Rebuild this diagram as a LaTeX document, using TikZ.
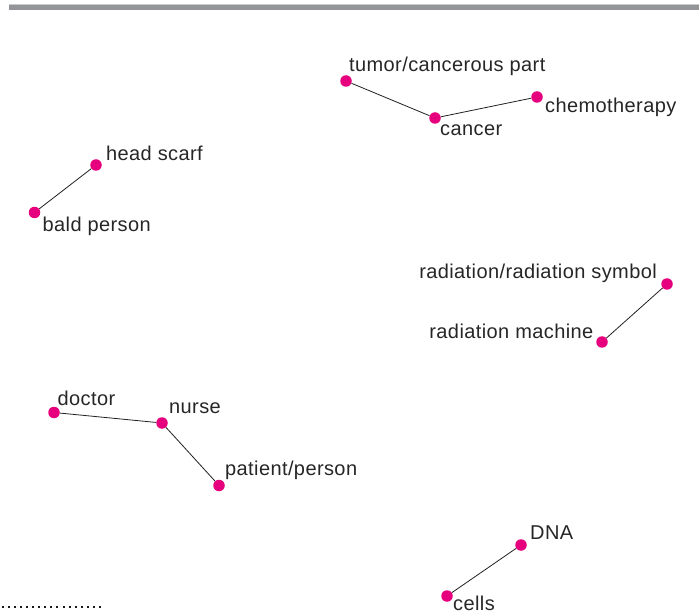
\documentclass[tikz,border=0pt]{standalone}
\usepackage{fontspec}
\setmainfont{Liberation Sans}
\newfontfamily\lblfont[LetterSpace=2]{Liberation Sans}
\definecolor{dotmag}{HTML}{E6007E}
\definecolor{bargray}{HTML}{939598}
\definecolor{linegray}{HTML}{231F20}
\begin{document}
\begin{tikzpicture}[x=1pt,y=-1pt,
  pt/.style={circle,fill=dotmag,inner sep=0pt,minimum size=11.5pt},
  lbl/.style={inner sep=0pt,font=\lblfont\fontsize{20}{22}\selectfont,text=black!85},
  conn/.style={draw=linegray,line width=0.8pt}]
\useasboundingbox (0,0) rectangle (699,612);
\fill[bargray!50] (9,3.8) rectangle (699,4.6);
\fill[bargray] (9,4.6) rectangle (699,10.2);
\draw[line width=2pt,dash pattern=on 2pt off 4.1pt,black!90] (1.5,606.5) -- (101,606.5);
% dots
\node[pt] (tumor) at (346,81) {};
\node[pt] (cancer) at (435,118) {};
\node[pt] (chemo) at (537,97) {};
\node[pt] (scarf) at (96,165) {};
\node[pt] (bald) at (34.5,212.5) {};
\node[pt] (radsym) at (667,284) {};
\node[pt] (radmach) at (602,342) {};
\node[pt] (doctor) at (54,412.5) {};
\node[pt] (nurse) at (162,423) {};
\node[pt] (patient) at (219,485.5) {};
\node[pt] (dna) at (521,545) {};
\node[pt] (cells) at (447,596) {};
% connectors
\draw[conn] (tumor) -- (cancer) -- (chemo);
\draw[conn] (scarf) -- (bald);
\draw[conn] (radsym) -- (radmach);
\draw[conn] (doctor) -- (nurse) -- (patient);
\draw[conn] (dna) -- (cells);
% labels
\node[lbl,anchor=base west] (ltumor) at (349,72) {tumor/cancerous part};
\node[lbl,anchor=base west] (lcancer) at (440,136) {cancer};
\node[lbl,anchor=base west] (lchemo) at (545,113) {chemotherapy};
\node[lbl,anchor=base west] (lscarf) at (106,160.7) {head scarf};
\node[lbl,anchor=base west] (lbald) at (42.5,231.7) {bald person};
\node[lbl,anchor=base east] (lradsym) at (657,278.3) {radiation/radiation symbol};
\node[lbl,anchor=base east] (lradmach) at (593.5,338.3) {radiation machine};
\node[lbl,anchor=base west] (ldoctor) at (57.5,405.7) {doctor};
\node[lbl,anchor=base west] (lnurse) at (169,413) {nurse};
\node[lbl,anchor=base west] (lpatient) at (225,475) {patient/person};
\node[lbl,anchor=base west] (ldna) at (530,539) {DNA};
\node[lbl,anchor=base west] (lcells) at (453,610.5) {cells};
\end{tikzpicture}
\end{document}
